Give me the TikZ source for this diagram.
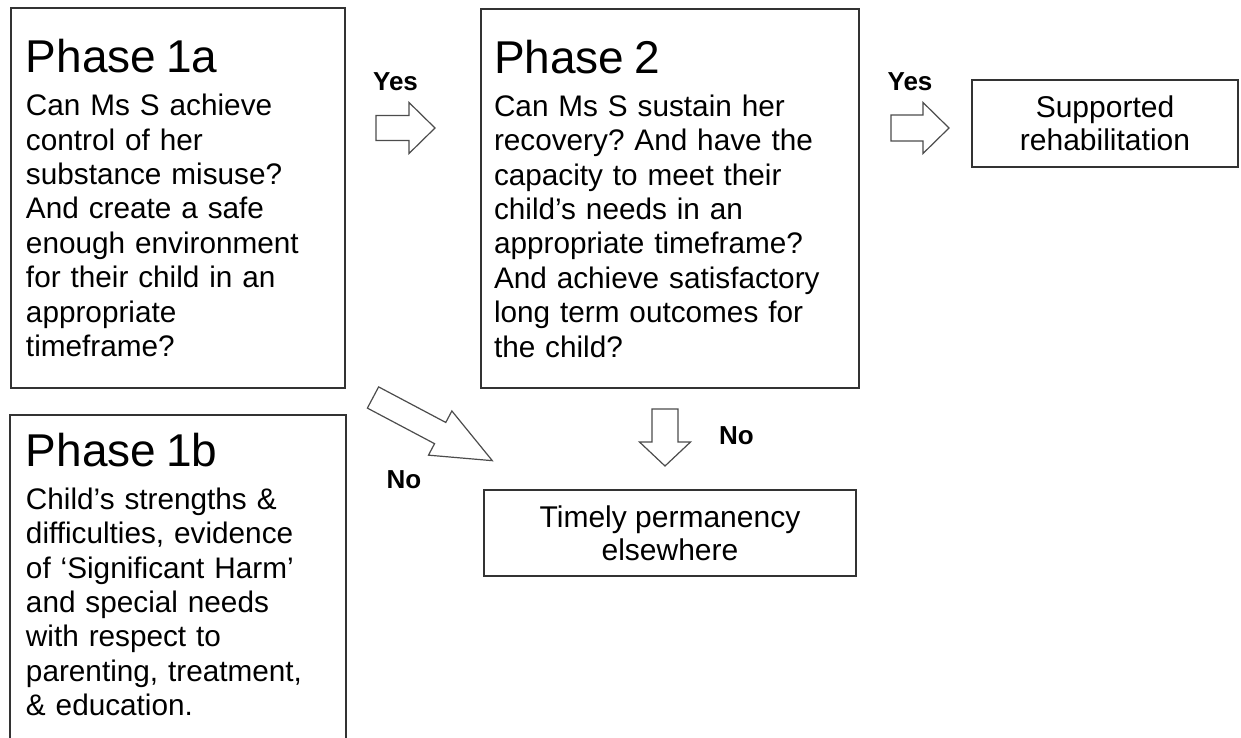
\documentclass[tikz,border=0pt]{standalone}
\usepackage{fontspec}
\setmainfont{Liberation Sans}
\usetikzlibrary{positioning}
\frenchspacing

\begin{document}
\begin{tikzpicture}[x=0.75pt, y=-0.75pt,
  every node/.style={font=\fontsize{22.3}{25.8}\selectfont},
  phase/.style={draw=black!80, line width=1.5pt, align=left, anchor=north west,
                inner xsep=11.25pt, inner ysep=23.25pt, text width=228pt},
  outcome/.style={draw=black!80, line width=1.5pt, align=center,
                  font=\fontsize{22.5}{25}\selectfont},
  answer/.style={font=\bfseries\fontsize{19.5}{23}\selectfont},
  arrline/.style={draw=black!70, fill=white, line width=0.9pt},
  pics/fatarrow/.style n args={4}{code={
    \draw[arrline] (0,-#1) -- (#2,-#1) -- (#2,-#3) -- (#4,0) -- (#2,#3)
                   -- (#2,#1) -- (0,#1) -- cycle;}}]

  \useasboundingbox (0,0) rectangle (1241,738);

  % ---- Phase boxes ----
  \node[phase, minimum height=285pt] (p1a) at (10,7)
    {{\fontsize{34.5}{40}\selectfont Phase 1a}\\[6.45pt]
     Can Ms S achieve\\ control of her\\ substance misuse?\\ And create a safe\\
     enough environment\\ for their child in an\\ appropriate\\ timeframe?};

  \node[phase, minimum height=284.25pt, inner xsep=9.75pt, text width=264pt]
    (p2) at (480,8)
    {{\fontsize{34.5}{40}\selectfont Phase 2}\\[6.45pt]
     Can Ms S sustain her\\ recovery? And have the\\ capacity to meet their\\
     child's needs in an\\ appropriate timeframe?\\ And achieve satisfactory\\
     long term outcomes for\\ the child?};

  \node[phase, draw=none, inner ysep=12.75pt] (p1b) at (10,415)
    {{\fontsize{34.5}{40}\selectfont Phase 1b}\\[6.45pt]
     Child's strengths \&\\ difficulties, evidence\\ of `Significant Harm'\\
     and special needs\\ with respect to\\ parenting, treatment,\\ \& education.};
  \coordinate (bottom) at (0,745);
  \draw[draw=black!80, line width=1.5pt] (p1b.north west |- bottom) -- (p1b.north west)
    -- (p1b.north east) -- (p1b.north east |- bottom);

  % ---- Outcomes ----
  \node[outcome, minimum width=199.5pt, minimum height=65.25pt] (supp) at (1105,123.5)
    {Supported\\ rehabilitation};
  \node[outcome, minimum width=279pt, minimum height=64.5pt, below=75pt of p2] (timely)
    {Timely permanency\\ elsewhere};

  % ---- Block arrows ----
  \pic at (376,128) {fatarrow={12.5}{33}{25.5}{59}};
  \pic at (891,128) {fatarrow={13}{32}{25.5}{58}};
  \pic[rotate=-90] at (665,409) {fatarrow={13}{33}{25.5}{57}};
  \pic[rotate=-27.9] at (373,397.5) {fatarrow={12}{76}{25}{135}};

  % ---- Answers ----
  \node[answer] (yes1) at (395.5,82) {Yes};
  \node[answer] (yes2) at (910,82) {Yes};
  \node[answer] (no1) at (404,480) {No};
  \node[answer] (no2) at (736.5,436) {No};
\end{tikzpicture}
\end{document}
